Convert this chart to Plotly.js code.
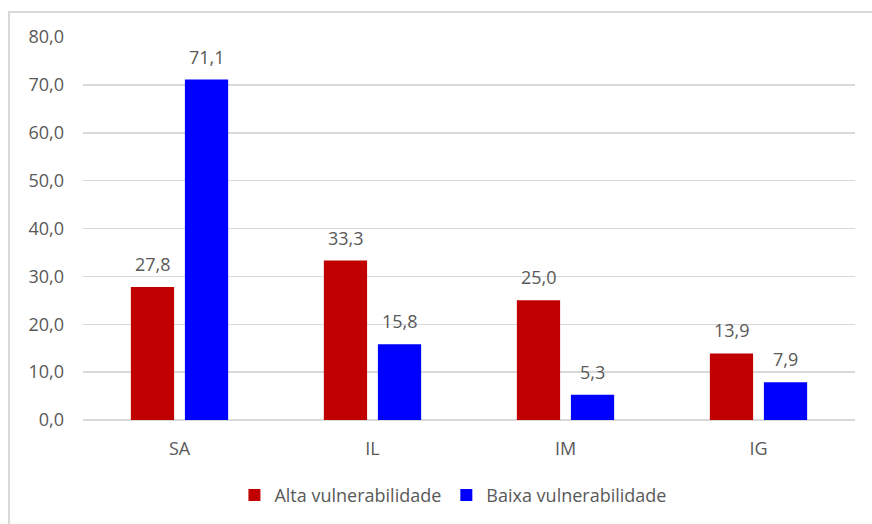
<!DOCTYPE html>
<html><head><meta charset="utf-8">
<script src="https://cdn.plot.ly/plotly-3.0.1.min.js"></script>
<style>
html,body{margin:0;padding:0;background:#fff;}
#frame{position:absolute;left:8px;top:11px;width:900px;height:560px;border:2px solid #d9d9d9;box-sizing:border-box;pointer-events:none;z-index:2;}
#chart{position:absolute;left:0;top:0;width:872px;height:524px;}
</style></head>
<body>
<div id="chart"></div>
<div id="frame"></div>
<script>
const categories = ["SA", "IL", "IM", "IG"];
const alta = [27.8, 33.3, 25.0, 13.9];
const baixa = [71.1, 15.8, 5.3, 7.9];
const seriesNames = ["Alta vulnerabilidade", "Baixa vulnerabilidade"];
const fmt = v => v.toFixed(1).replace('.', ',');
const font = {family: "Open Sans, Liberation Sans, sans-serif", size: 18, color: "#595959"};
const traces = [
  {type: "bar", x: categories, y: alta, name: seriesNames[0], marker: {color: "#C00000"}, hoverinfo: "none"},
  {type: "bar", x: categories, y: baixa, name: seriesNames[1], marker: {color: "#0000FF"}, hoverinfo: "none"}
];
const labelAnn = (vals, shift) => vals.map((v, i) => ({
  x: categories[i], y: v, xref: "x", yref: "y", text: fmt(v), showarrow: false,
  xanchor: "center", yanchor: "bottom", xshift: shift, yshift: 9, font: font
}));
const layout = {
  width: 872, height: 524,
  margin: {l: 83, r: 17, t: 37, b: 104, autoexpand: false},
  paper_bgcolor: "rgba(0,0,0,0)", plot_bgcolor: "#fff",
  separators: ",.",
  font: font,
  barmode: "group", bargap: 0.44, bargroupgap: 0.2,
  showlegend: true,
  legend: {orientation: "h", x: 0.52, xanchor: "center", xref: "container", y: 0.055, yref: "container", yanchor: "middle", font: font, traceorder: "normal", itemwidth: 30},
  annotations: labelAnn(alta, -27).concat(labelAnn(baixa, 27)),
  xaxis: {type: "category", showgrid: false, zeroline: false, showline: false, ticks: "", tickfont: font, ticklabelstandoff: 16},
  yaxis: {range: [0, 80], dtick: 10, tickformat: ".1f", gridcolor: "#d9d9d9", gridwidth: 1.5, zeroline: true, zerolinecolor: "#d9d9d9", zerolinewidth: 1.5, showline: false, ticks: "", tickfont: font, ticklabelstandoff: 18}
};
Plotly.newPlot("chart", traces, layout, {displayModeBar: false, staticPlot: true});
</script>
</body></html>
